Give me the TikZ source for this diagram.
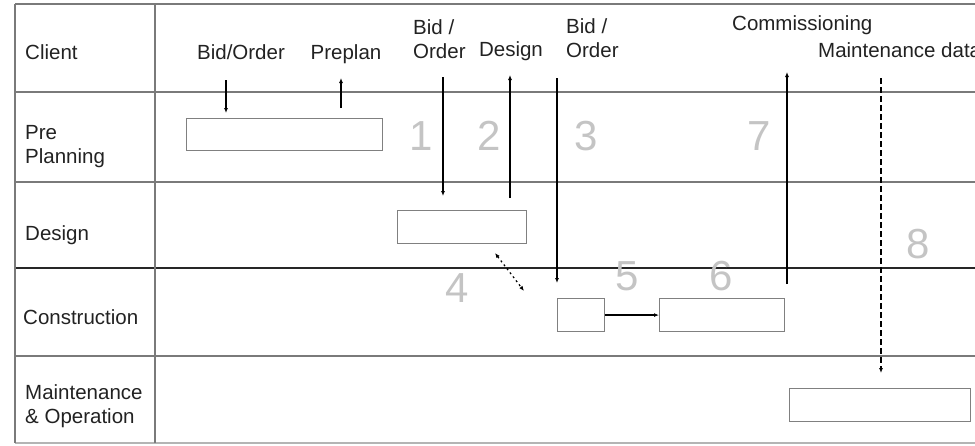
\documentclass[tikz,border=0pt]{standalone}
\usepackage{fontspec}
\setmainfont{Liberation Sans}
\usetikzlibrary{positioning,arrows.meta}
\definecolor{gridcol}{HTML}{7A7A7A}
\definecolor{lightcol}{HTML}{B4B4B4}
\definecolor{boxcol}{HTML}{808080}
\definecolor{numcol}{HTML}{C4C4C4}
\definecolor{txtcol}{HTML}{222222}

\begin{document}
\begin{tikzpicture}[
   x=1pt,y=-1pt,
   font=\fontsize{20.5}{24}\selectfont,
   lane/.style={draw=gridcol,line width=1.3pt},
   lbl/.style={text=txtcol,inner sep=0pt,align=left},
   num/.style={text=numcol,inner sep=0pt,font=\fontsize{42}{42}\selectfont},
   stepbox/.style={draw=boxcol,line width=1.1pt,inner sep=0pt,anchor=north west},
   flow/.style={-{Latex[length=5pt,width=4pt]},line width=1.3pt},
]
\useasboundingbox (0,0) rectangle (975,445);

% swim lanes
\draw[lane] (15,4) -- (975,4);
\draw[lane] (15,92) -- (975,92);
\draw[lane] (15,182) -- (975,182);
\draw[line width=1.6pt,black!85] (15,268) -- (975,268);
\draw[lane] (15,356) -- (975,356);
\draw[draw=lightcol,line width=1.3pt] (15,443) -- (975,443);
\draw[lane] (15,4) -- (15,443);
\draw[lane] (155,4) -- (155,443);

% lane names (multi-line: base = last line)
\node[lbl,anchor=base west] (client) at (25,59) {Client};
\node[lbl,anchor=base west] (prepl) at (25,163) {Pre\\Planning};
\node[lbl,anchor=base west] (design) at (25,240) {Design};
\node[lbl,anchor=base west] (constr) at (23,324) {Construction};
\node[lbl,anchor=base west] (maint) at (25,423) {Maintenance\\\& Operation};

% messages to / from client
\node[lbl,anchor=base] (bidA) at (241,59) {Bid/Order};
\node[lbl,anchor=base] (preplan) at (346,59) {Preplan};
\node[lbl,anchor=base west] (bidB) at (413,58) {Bid /\\Order};
\node[lbl,anchor=base] (desmsg) at (511,56) {Design};
\node[lbl,anchor=base west] (bidC) at (566,57) {Bid /\\Order};
\node[lbl,anchor=base west] (comm) at (732,30) {Commissioning};
\node[lbl,anchor=base west] (mdata) at (818,57) {Maintenance data};

% activities
\node[stepbox,minimum width=196pt,minimum height=32pt] (prebox) at (186,118) {};
\node[stepbox,minimum width=129pt,minimum height=33pt] (desbox) at (397,210) {};
\node[stepbox,minimum width=47pt,minimum height=33pt] (conA) at (557,298) {};
\node[stepbox,minimum width=125pt,minimum height=33pt] (conB) at (659,298) {};
\node[stepbox,minimum width=181pt,minimum height=33pt] (mntbox) at (789,388) {};

% step numbers
\node[num,anchor=base] (n1) at (421,150) {1};
\node[num,anchor=base] (n2) at (489,150) {2};
\node[num,anchor=base] (n3) at (586,150) {3};
\node[num,anchor=base] (n4) at (457,302) {4};
\node[num,anchor=base] (n5) at (627,290) {5};
\node[num,anchor=base] (n6) at (721,290) {6};
\node[num,anchor=base] (n7) at (759,150) {7};
\node[num,anchor=base] (n8) at (918,258) {8};

% free arrow ends
\coordinate (s1) at (226,80);
\coordinate (e2) at (341,78);
\coordinate (s3) at (443,77);
\coordinate (e4) at (510,75);
\coordinate (s5) at (557,78);
\coordinate (e7) at (787,72);
\coordinate (s8) at (881,78);
\coordinate (d1) at (495,253);
\coordinate (d2) at (524,291);

% flows
\draw[flow] (s1) -- (s1 |- prebox.north) [shorten >=5pt];
\draw[flow] (e2 |- prebox.north) [shorten <=10pt] -- (e2);
\draw[flow] (s3) -- (s3 |- desbox.north) [shorten >=14pt];
\draw[flow] (e4 |- desbox.north) [shorten <=12pt] -- (e4);
\draw[flow] (s5) -- (conA.north west) [shorten >=15pt];
\draw[flow] (e7 |- conB.north) [shorten <=14pt] -- (e7);
\draw[flow,dashed,dash pattern=on 6pt off 3pt] (s8) -- (s8 |- mntbox.north) [shorten >=15pt];
\draw[flow] (conA) -- (conB);
\draw[{Latex[length=5pt,width=4pt]}-{Latex[length=5pt,width=4pt]},line width=1.2pt,
      dash pattern=on 2pt off 3pt] (d1) -- (d2);

\end{tikzpicture}
\end{document}
